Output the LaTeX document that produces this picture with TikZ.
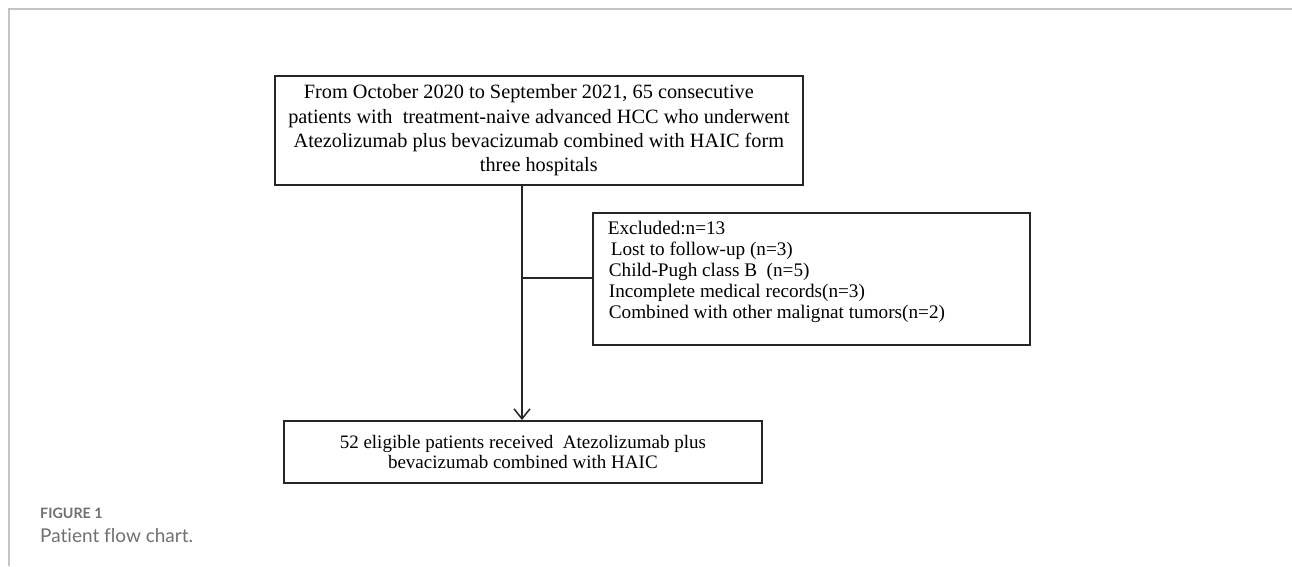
\documentclass[tikz,border=0pt]{standalone}
\usepackage{fontspec}
\setmainfont{Liberation Serif}
\newfontfamily\capfont[Ligatures=NoCommon]{Lato}
\usetikzlibrary{arrows.meta}
\definecolor{capgray}{HTML}{707070}
\definecolor{framegray}{HTML}{C4C4C4}
\begin{document}
\begin{tikzpicture}[x=1pt,y=-1pt,
  box/.style={draw=black!85,line width=1.7pt,inner sep=0pt},
  conn/.style={draw=black!85,line width=1.6pt},
  captxt/.style={anchor=west,inner sep=0pt,text=capgray}]
\useasboundingbox (0,0) rectangle (1292,566);
\draw[framegray,line width=1.5pt] (9,566) -- (9,9) -- (1292,9);
\node[box,anchor=north west,minimum width=528pt,minimum height=109pt,align=center,
      font=\fontsize{20.3}{24.3}\selectfont] (top) at (274,75)
  {From October 2020 to September 2021, 65 consecutive\hspace*{20pt}\\
   patients with\ \ treatment-naive advanced HCC who underwent\\
   Atezolizumab plus bevacizumab combined with HAIC form\\
   three hospitals};
\node[box,anchor=north west,minimum width=437pt,minimum height=132pt,inner xsep=15pt,inner ysep=8pt] (excl) at (592,212)
  {\parbox[c][116pt][t]{407pt}{\fontsize{19.2}{21}\selectfont\raggedright
   Excluded:n=13\\
   \hspace*{3pt}Lost to follow-up (n=3)\\
   \hspace*{1pt}Child-Pugh class B\ \ (n=5)\\
   \hspace*{1pt}Incomplete medical records(n=3)\\
   \hspace*{1pt}Combined with other malignat tumors(n=2)}};
\node[box,anchor=north west,minimum width=478pt,minimum height=62pt] (bot) at (283,420)
  {\raisebox{-1pt}{\parbox{470pt}{\fontsize{19}{20}\selectfont\centering
   52 eligible patients received\ \ Atezolizumab plus\\
   bevacizumab combined with HAIC}}};
\coordinate (j) at (522,278);
\draw[conn] (top.south -| j) -- (j);
\draw[conn,-{Straight Barb[length=10pt,width=16pt,line width=1.5pt]}] (j) -- (bot.north -| j);
\draw[conn] (j) -- (excl.west |- j);
\node[captxt,font=\capfont\bfseries\fontsize{14.3}{16}\selectfont] (fig) at (40,513) {FIGURE 1};
\node[captxt,font=\capfont\fontsize{19}{21}\selectfont] (cap) at (40,536) {Patient flow chart.};
\end{tikzpicture}
\end{document}
